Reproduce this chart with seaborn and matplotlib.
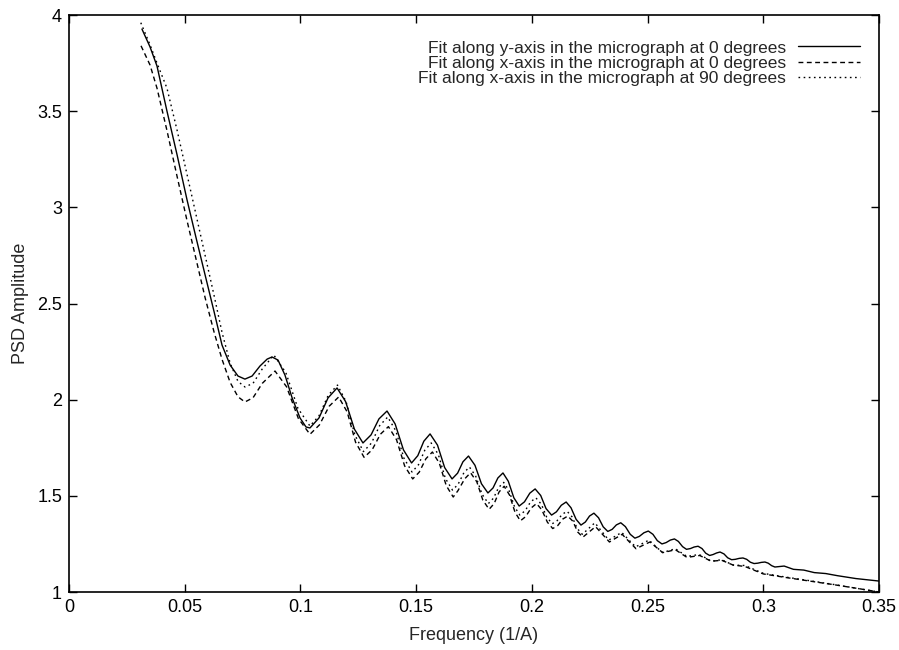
import numpy as np
import pandas as pd
import seaborn as sns
import matplotlib.pyplot as plt
from matplotlib.ticker import FuncFormatter, MultipleLocator

# values
y0_freq = [0.0315, 0.035, 0.038, 0.0423, 0.0467, 0.051, 0.0549, 0.0588, 0.0627, 0.0661, 0.0696, 0.073, 0.076,
           0.0791, 0.0825, 0.0856, 0.0877, 0.0903, 0.0933, 0.0964, 0.0998, 0.1024, 0.1041,
           0.108, 0.1119, 0.1158, 0.1195, 0.1233, 0.127, 0.1305, 0.1339, 0.1374, 0.1409, 0.1445, 0.148,
           0.1507, 0.1533, 0.156, 0.1592, 0.1623, 0.1655, 0.1679, 0.1702, 0.1726, 0.1754, 0.1782, 0.181,
           0.1832, 0.1853, 0.1875, 0.1898, 0.1922, 0.1945, 0.1968, 0.1991, 0.2014, 0.2038, 0.2061, 0.2085,
           0.2106, 0.2127, 0.2148, 0.2169, 0.2191, 0.2212, 0.2231, 0.2249, 0.2268, 0.2288, 0.2308, 0.2328,
           0.2347, 0.2365, 0.2384, 0.2404, 0.2425, 0.2445, 0.2464, 0.2484, 0.2503, 0.2523, 0.2542, 0.2562,
           0.258, 0.2598, 0.2616, 0.2633, 0.2651, 0.2668, 0.2685, 0.2701, 0.2718, 0.2735, 0.2751, 0.2768,
           0.2783, 0.2798, 0.2813, 0.283, 0.2846, 0.2863, 0.2879, 0.2896, 0.2912, 0.2928, 0.2944, 0.296,
           0.2976, 0.2991, 0.3007, 0.3021, 0.3036, 0.305, 0.309, 0.313, 0.3175, 0.322, 0.327, 0.332, 0.34, 0.35]
y0_amp = [3.927, 3.834, 3.735, 3.501, 3.272, 3.038, 2.841, 2.648, 2.456, 2.284, 2.180, 2.123, 2.107,
          2.123, 2.175, 2.211, 2.222, 2.206, 2.128, 2.009, 1.905, 1.858, 1.853,
          1.905, 2.009, 2.061, 1.990, 1.847, 1.775, 1.817, 1.900, 1.941, 1.874, 1.739, 1.671,
          1.709, 1.784, 1.822, 1.764, 1.647, 1.588, 1.618, 1.677, 1.707, 1.659, 1.563, 1.515,
          1.541, 1.593, 1.619, 1.576, 1.490, 1.447, 1.469, 1.514, 1.536, 1.502, 1.434, 1.400,
          1.417, 1.451, 1.468, 1.438, 1.378, 1.348, 1.364, 1.395, 1.410, 1.386, 1.339, 1.315,
          1.326, 1.349, 1.360, 1.340, 1.300, 1.280, 1.289, 1.308, 1.317, 1.300, 1.267, 1.250,
          1.257, 1.270, 1.276, 1.263, 1.236, 1.222, 1.226, 1.234, 1.238, 1.226, 1.202, 1.190,
          1.195, 1.203, 1.208, 1.198, 1.178, 1.168, 1.170, 1.175, 1.177, 1.170, 1.155, 1.148,
          1.150, 1.154, 1.156, 1.150, 1.137, 1.130, 1.135, 1.118, 1.114, 1.101, 1.096, 1.085, 1.070, 1.057]

x0_freq = [0.0311, 0.035, 0.038, 0.0423, 0.0467, 0.051, 0.0549, 0.0588, 0.0627, 0.0661, 0.0696, 0.073, 0.076,
           0.0795, 0.0835, 0.089, 0.094, 0.0991, 0.1041, 0.1082, 0.1124, 0.1165, 0.1202, 0.1238, 0.1275,
           0.131, 0.1345, 0.138, 0.1415, 0.145, 0.1485, 0.1513, 0.1542, 0.157, 0.160, 0.163, 0.166,
           0.168, 0.171, 0.1735, 0.1762, 0.1788, 0.1815, 0.1837, 0.1858, 0.188, 0.1903, 0.1927, 0.195,
           0.1973, 0.1997, 0.202, 0.2043, 0.2067, 0.209, 0.2112, 0.2133, 0.2155, 0.2177, 0.2198, 0.222,
           0.2248, 0.2275, 0.2305, 0.2335, 0.2362, 0.239, 0.242, 0.245, 0.248, 0.251, 0.2538, 0.2565,
           0.2592, 0.262, 0.2645, 0.267, 0.2698, 0.2725, 0.275, 0.2775, 0.282, 0.287, 0.292, 0.30,
           0.31, 0.32, 0.33, 0.34, 0.35]
x0_amp = [3.84, 3.74, 3.62, 3.40, 3.16, 2.93, 2.73, 2.53, 2.35, 2.21, 2.09, 2.015, 1.988,
          2.01, 2.085, 2.149, 2.067, 1.902, 1.82, 1.869, 1.966, 2.014, 1.936, 1.779, 1.70,
          1.74, 1.82, 1.86, 1.792, 1.656, 1.588, 1.623, 1.693, 1.728, 1.67, 1.553, 1.494,
          1.526, 1.589, 1.62, 1.573, 1.478, 1.43, 1.46, 1.52, 1.55, 1.505, 1.415, 1.37,
          1.392, 1.437, 1.46, 1.427, 1.363, 1.33, 1.346, 1.379, 1.395, 1.368, 1.312, 1.285,
          1.313, 1.34, 1.30, 1.26, 1.28, 1.30, 1.262, 1.225, 1.243, 1.26, 1.232, 1.205,
          1.212, 1.22, 1.20, 1.18, 1.185, 1.19, 1.175, 1.16, 1.165, 1.14, 1.133, 1.094,
          1.075, 1.057, 1.039, 1.02, 1.0]

x90_freq = [0.031, 0.035, 0.038, 0.0423, 0.0467, 0.051, 0.0549, 0.0588, 0.0627, 0.0661, 0.0696, 0.073, 0.076,
            0.0795, 0.0835, 0.0885, 0.0937, 0.0989, 0.1041, 0.108, 0.112, 0.116, 0.1197, 0.1235, 0.1272,
            0.1307, 0.1342, 0.1377, 0.1412, 0.1447, 0.1482, 0.151, 0.1537, 0.1565, 0.1596, 0.1626, 0.1657,
            0.1681, 0.1706, 0.173, 0.1757, 0.1785, 0.1812, 0.1834, 0.1856, 0.1878, 0.1901, 0.1925, 0.1948,
            0.1971, 0.1994, 0.2017, 0.2041, 0.2064, 0.2088, 0.2109, 0.2131, 0.2152, 0.2174, 0.2196, 0.2218,
            0.2245, 0.2272, 0.2302, 0.2332, 0.236, 0.2388, 0.2418, 0.2448, 0.2477, 0.2506, 0.2535, 0.2565,
            0.2592, 0.262, 0.2645, 0.267, 0.2696, 0.2722, 0.275, 0.2775, 0.282, 0.287, 0.292, 0.30,
            0.31, 0.32, 0.33, 0.34, 0.35]
x90_amp = [3.96, 3.845, 3.75, 3.62, 3.40, 3.17, 2.96, 2.75, 2.54, 2.35, 2.19, 2.095, 2.066,
           2.085, 2.16, 2.232, 2.14, 1.955, 1.863, 1.916, 2.023, 2.076, 1.99, 1.817, 1.73,
           1.775, 1.865, 1.91, 1.838, 1.696, 1.624, 1.662, 1.737, 1.775, 1.714, 1.591, 1.53,
           1.56, 1.62, 1.65, 1.603, 1.508, 1.46, 1.488, 1.543, 1.57, 1.528, 1.443, 1.40,
           1.423, 1.468, 1.49, 1.456, 1.389, 1.355, 1.371, 1.404, 1.42, 1.39, 1.33, 1.30,
           1.33, 1.36, 1.315, 1.27, 1.29, 1.31, 1.272, 1.235, 1.252, 1.27, 1.237, 1.205,
           1.215, 1.225, 1.205, 1.185, 1.19, 1.195, 1.178, 1.16, 1.168, 1.14, 1.138, 1.097,
           1.077, 1.059, 1.04, 1.02, 1.0]

labels = ["Fit along y-axis in the micrograph at 0 degrees",
          "Fit along x-axis in the micrograph at 0 degrees",
          "Fit along x-axis in the micrograph at 90 degrees"]

sns.set_theme(style="ticks")
plt.rcParams['font.family'] = ['Liberation Sans', 'DejaVu Sans']
plt.rcParams['font.size'] = 13

fig = plt.figure(figsize=(8.99, 6.5), dpi=100)
ax = fig.add_axes([0.0768, 0.0892, 0.901, 0.8877])

series = [(y0_freq, y0_amp, '-'), (x0_freq, x0_amp, (0, (3.5, 2.5))), (x90_freq, x90_amp, (0, (1.2, 2.5)))]
for (fx, fy, ls), lab in zip(series, labels):
    df = pd.DataFrame({'freq': fx, 'amp': fy})
    sns.lineplot(data=df, x='freq', y='amp', ax=ax, color='black', linewidth=1.0,
                 linestyle=ls, estimator=None, sort=False, label=lab)

ax.set_xlim(0, 0.35)
ax.set_ylim(1, 4)
ax.xaxis.set_major_locator(MultipleLocator(0.05))
ax.yaxis.set_major_locator(MultipleLocator(0.5))
fmt = FuncFormatter(lambda v, p: '%g' % round(v, 4))
ax.xaxis.set_major_formatter(fmt)
ax.yaxis.set_major_formatter(fmt)
ax.tick_params(direction='in', length=6, width=1, top=True, right=True, labelsize=13, colors='black', pad=5)
for s in ax.spines.values():
    s.set_linewidth(1.2)
    s.set_color('black')
ax.set_xlabel('Frequency (1/A)', fontsize=13, labelpad=8)
ax.set_ylabel('PSD Amplitude', fontsize=13, labelpad=6)

ax.legend(loc='upper right', bbox_to_anchor=(0.977, 0.956), frameon=False, markerfirst=False,
          borderpad=0, borderaxespad=0, labelspacing=0.0, handlelength=3.6, handletextpad=0.7,
          fontsize=12.5)

fig.savefig('out.png', dpi=100)
